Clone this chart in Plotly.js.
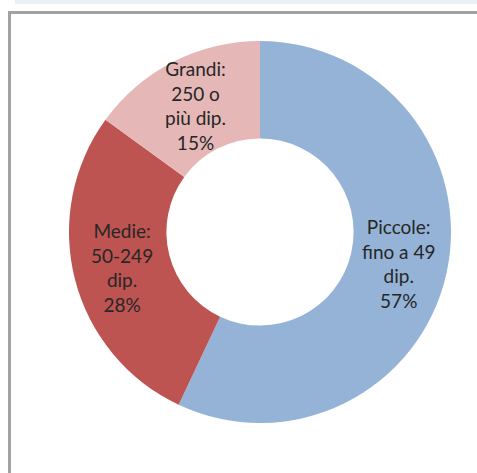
<!DOCTYPE html>
<html>
<head>
<meta charset="utf-8">
<script src="https://cdn.plot.ly/plotly-3.0.1.min.js"></script>
<style>
html,body{margin:0;padding:0;background:#fff;}
#chart{width:477px;height:473px;}
</style>
</head>
<body>
<div id="chart"></div>
<script>
const categories = ['Piccole:<br>fino a 49<br>dip.', 'Medie:<br>50-249<br>dip.', 'Grandi:<br>250 o<br>più dip.'];
const values = [57, 28, 15];
const colors = ['#95B3D7', '#BE5451', '#E5B8B7'];

const W = 477, H = 473;
const domX = [69/W, 451/W], domY = [1 - 423/H, 1 - 41/H];
const hole = 0.49;

const trace = {
  type: 'pie',
  labels: categories,
  values: values,
  hole: hole,
  sort: false,
  direction: 'clockwise',
  rotation: 0,
  marker: {colors: colors, line: {width: 0}},
  textinfo: 'none',
  showlegend: false,
  hoverinfo: 'none',
  domain: {x: domX, y: domY}
};

// label positions derived from the data: mid-angle of each slice, mid-radius of the ring
const total = values.reduce((a, b) => a + b, 0);
const cx = (domX[0] + domX[1]) / 2 * W;
const cy = (1 - (domY[0] + domY[1]) / 2) * H;
const R = Math.min((domX[1] - domX[0]) * W, (domY[1] - domY[0]) * H) / 2;
const rMid = R * (1 + hole) / 2;
let cum = 0;
const annotations = values.map((v, i) => {
  const mid = (cum + v / 2) / total * 2 * Math.PI;
  cum += v;
  const px = cx + rMid * Math.sin(mid);
  const py = cy - rMid * Math.cos(mid);
  return {
    xref: 'paper', yref: 'paper', x: px / W, y: 1 - py / H,
    xanchor: 'center', yanchor: 'middle', showarrow: false,
    text: categories[i] + '<br>' + Math.round(v / total * 100) + '%',
    font: {family: 'Lato, "Open Sans", sans-serif', size: 19, color: '#262626'},
    align: 'center'
  };
});

const layout = {
  width: W, height: H,
  margin: {l: 0, r: 0, t: 0, b: 0},
  paper_bgcolor: '#ffffff',
  showlegend: false,
  annotations: annotations,
  shapes: [
    {type: 'rect', xref: 'paper', yref: 'paper', x0: 15/W, x1: 1.01, y0: 1 - 4/H, y1: 1.01,
     fillcolor: '#E9F1F5', line: {width: 0}, layer: 'below'},
    {type: 'rect', xref: 'paper', yref: 'paper', x0: 9.5/W, x1: 1.05, y0: -0.05, y1: 1 - 12.5/H,
     fillcolor: 'rgba(0,0,0,0)', line: {width: 3, color: '#A2A2A2'}, layer: 'below'}
  ]
};

Plotly.newPlot('chart', [trace], layout, {displayModeBar: false, staticPlot: true});
</script>
</body>
</html>
